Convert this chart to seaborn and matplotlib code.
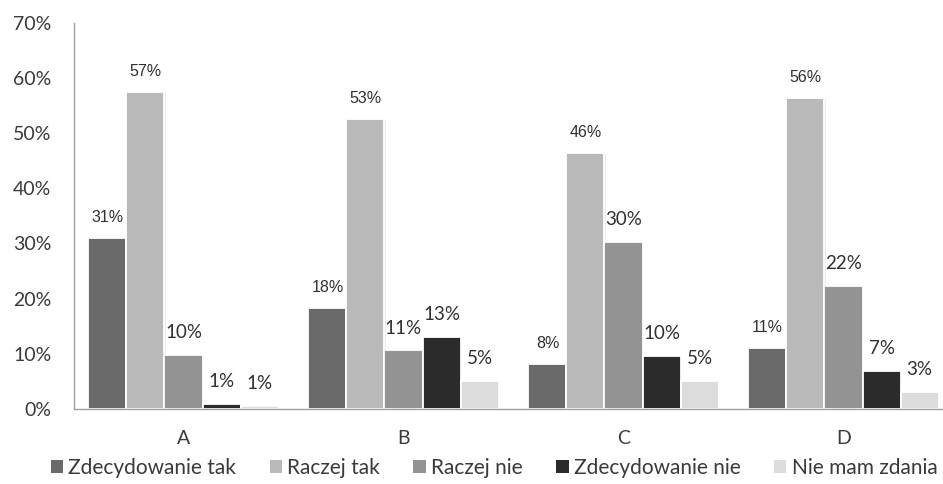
import matplotlib
matplotlib.use("Agg")
import matplotlib.pyplot as plt
from matplotlib import font_manager
from matplotlib.patches import Patch
from matplotlib.ticker import FuncFormatter
import matplotlib.patheffects as pe
import numpy as np
import pandas as pd
import seaborn as sns

# Survey answers (percent of respondents) for four questions
groups = ["A", "B", "C", "D"]
series = ["Zdecydowanie tak", "Raczej tak", "Raczej nie", "Zdecydowanie nie", "Nie mam zdania"]
zdecydowanie_tak = [30.9, 18.3, 8.1, 11.0]
raczej_tak = [57.4, 52.6, 46.4, 56.4]
raczej_nie = [9.7, 10.6, 30.2, 22.2]
zdecydowanie_nie = [0.9, 13.1, 9.6, 6.9]
nie_mam_zdania = [0.6, 5.1, 5.1, 3.0]
yticks = [0, 10, 20, 30, 40, 50, 60, 70]

colors = ["#6a6a6a", "#b9b9b9", "#939393", "#2b2b2b", "#dcdcdc"]

sns.set_theme(style="white")
available = {f.name for f in font_manager.fontManager.ttflist}
main_font = "Lato" if "Lato" in available else "DejaVu Sans"
small_font = "Liberation Sans" if "Liberation Sans" in available else "DejaVu Sans"
plt.rcParams["font.family"] = [main_font, "DejaVu Sans"]

values = [zdecydowanie_tak, raczej_tak, raczej_nie, zdecydowanie_nie, nie_mam_zdania]
rows = []
for name, vals in zip(series, values):
    for g, v in zip(groups, vals):
        rows.append({"group": g, "series": name, "value": v})
df = pd.DataFrame(rows)

fig = plt.figure(figsize=(9.43, 4.84), dpi=100)
ax = fig.add_axes([73.5 / 943, 75 / 484, 880 / 943, 386.5 / 484])

sns.barplot(
    data=df, x="group", y="value", hue="series",
    order=groups, hue_order=series, palette=colors,
    width=0.864, edgecolor="white", linewidth=1.3,
    legend=False, ax=ax, errorbar=None,
)

shadow = [pe.SimplePatchShadow(offset=(1.0, -1.0), shadow_rgbFace="#c0c0c0", alpha=0.3), pe.Normal()]
for cont in ax.containers:
    for p in cont:
        p.set_path_effects(shadow)

# value labels: first two answers in a smaller sans, the rest larger
for i, cont in enumerate(ax.containers):
    for p, v in zip(cont, values[i]):
        x = p.get_x() + p.get_width() / 2
        y = p.get_height()
        if i < 2:
            ax.annotate(f"{v:.0f}%", (x, y), xytext=(0, 11.5), textcoords="offset points",
                        ha="center", va="baseline", fontsize=11.5, color="#303030",
                        family=[small_font, "DejaVu Sans"])
        else:
            ax.annotate(f"{v:.0f}%", (x, y), xytext=(0, 12.2), textcoords="offset points",
                        ha="center", va="baseline", fontsize=13.5, color="#303030")

ax.set_ylim(0, 70)
ax.set_yticks(yticks)
ax.yaxis.set_major_formatter(FuncFormatter(lambda v, _: f"{v:.0f}%"))
ax.set_xlim(-0.5, 3.5)
ax.set_xlabel("")
ax.set_ylabel("")
ax.tick_params(axis="y", length=0, pad=16, labelsize=14, labelcolor="#3a3a3a")
ax.tick_params(axis="x", length=0, pad=15, labelsize=14, labelcolor="#3a3a3a")
for s in ["top", "right"]:
    ax.spines[s].set_visible(False)
for s in ["left", "bottom"]:
    ax.spines[s].set_color("#a0a0a0")
    ax.spines[s].set_linewidth(1.0)
ax.grid(False)

handles = [Patch(facecolor=c, edgecolor="none") for c in colors]
fig.legend(handles, series, loc="center", bbox_to_anchor=(494 / 943, 16 / 484),
           ncol=5, frameon=False, fontsize=15, handlelength=0.6, handleheight=0.6,
           handletextpad=0.25, columnspacing=1.6, labelcolor="#3a3a3a")

fig.savefig("out.png", dpi=100)
